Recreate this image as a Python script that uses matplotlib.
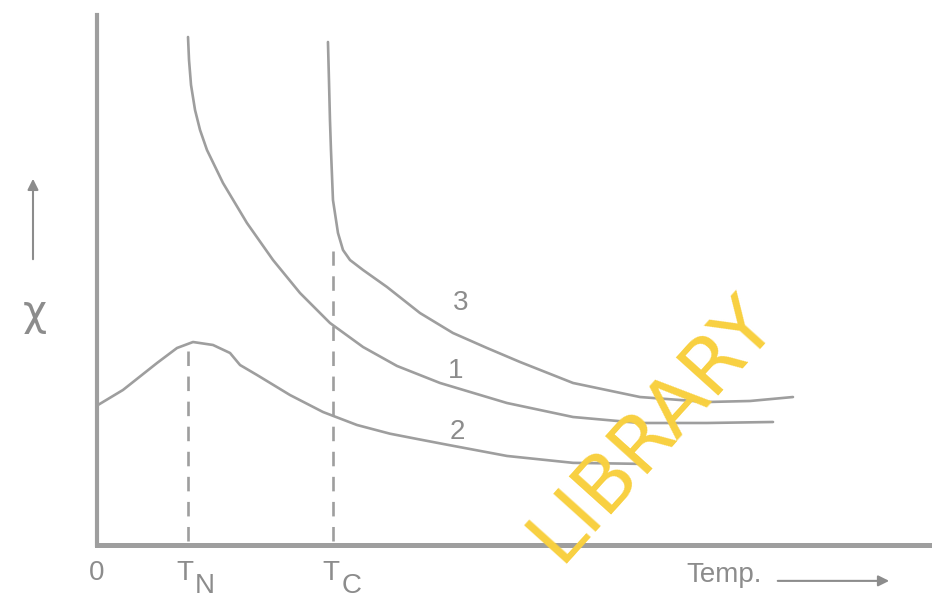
import numpy as np
import matplotlib.pyplot as plt

# critical temperatures (same units as the temperature axis)
T_N = 10.9
T_C = 28.3

# curve 1: paramagnet
t1 = [10.90, 11.02, 11.26, 11.74, 12.34, 13.17, 15.09, 17.96, 21.08, 24.31, 27.90,
      31.86, 35.93, 41.08, 49.10, 57.01, 65.03, 73.05, 80.96]
chi1 = [95.85, 91.51, 86.79, 82.08, 78.30, 74.53, 68.30, 60.75, 53.77, 47.55, 41.89,
        37.36, 33.78, 30.57, 26.79, 24.15, 23.02, 23.02, 23.21]

# curve 3: ferromagnet, diverges at T_C
t3 = [27.66, 27.78, 27.90, 28.02, 28.26, 28.86, 29.46, 30.30, 31.86, 34.73, 38.68,
      42.63, 46.71, 50.66, 57.01, 65.03, 73.05, 78.20, 83.35]
chi3 = [94.91, 87.74, 80.19, 74.53, 65.09, 58.87, 55.66, 53.77, 51.89, 48.68, 43.77,
        40.00, 37.17, 34.53, 30.57, 27.92, 26.98, 27.17, 27.92]

# curve 2: antiferromagnet, maximum at T_N
t2 = [0.12, 3.11, 7.19, 9.58, 11.50, 13.89, 15.93, 17.13, 19.16, 23.11, 27.07,
      31.14, 35.09, 38.68, 42.00, 49.10, 57.01, 65.39]
chi2 = [26.42, 29.25, 34.34, 37.17, 38.30, 37.74, 36.23, 33.96, 32.08, 28.30, 25.09,
        22.64, 21.00, 19.90, 18.90, 16.80, 15.50, 15.30]
peak_chi = 38.2
kink_chi = 55.5

curve_labels = ['3', '1', '2']
label_t = [43.5, 42.9, 43.2]
label_chi = [45.7, 32.8, 21.3]

gray = '#8c8c8c'
line_gray = '#9e9e9e'

fig = plt.figure(figsize=(9.32, 5.97), dpi=100)
ax = fig.add_axes([97 / 932, 52 / 597, 835 / 932, 530 / 597])
ax.set_xlim(0, 100)
ax.set_ylim(0, 100)

for s in ['top', 'right']:
    ax.spines[s].set_visible(False)
ax.spines['left'].set_color(line_gray)
ax.spines['left'].set_linewidth(3.0)
ax.spines['bottom'].set_color(line_gray)
ax.spines['bottom'].set_linewidth(3.6)
ax.set_xticks([])
ax.set_yticks([])

lw = 1.9
style = dict(color=line_gray, lw=lw, solid_capstyle='round', solid_joinstyle='round')
ax.plot(t1, chi1, **style)
ax.plot(t3, chi3, **style)
ax.plot(t2, chi2, **style)

# dashed drop lines to the axis
ax.plot([T_N, T_N], [0.8, peak_chi], color=line_gray, lw=lw, ls=(0, (5.5, 4)))
ax.plot([T_C, T_C], [0.8, kink_chi], color=line_gray, lw=lw, ls=(0, (5.5, 4)))

for lab, x, y in zip(curve_labels, label_t, label_chi):
    ax.text(x, y, lab, ha='center', va='center', fontsize=20, color=gray,
            family='Liberation Sans')

# labels below the temperature axis
trans = ax.get_xaxis_transform()
font = dict(color=gray, family='Liberation Sans', fontsize=20, va='baseline',
            ha='center', transform=trans, clip_on=False)
ax.text(0, -0.066, '0', **font)
ax.text(T_N - 0.4, -0.066, 'T', **font)
ax.text(T_N + 2.0, -0.09, 'N', **font)
ax.text(T_C - 0.3, -0.066, 'T', **font)
ax.text(T_C + 2.2, -0.09, 'C', **font)
ax.text(75.1, -0.070, 'Temp.', **font)

ax.annotate('', xy=(0.957, 0.027), xytext=(0.8315, 0.027), xycoords='figure fraction',
            textcoords='figure fraction',
            arrowprops=dict(arrowstyle='-|>', color=gray, lw=1.5, mutation_scale=16))

# chi with upward arrow
fig.text(35 / 932, 1 - 313 / 597, 'χ', ha='center', va='center', fontsize=30, color=gray,
         family='DejaVu Sans')
ax.annotate('', xy=(33 / 932, 1 - 176 / 597), xytext=(33 / 932, 1 - 262 / 597),
            xycoords='figure fraction', textcoords='figure fraction',
            arrowprops=dict(arrowstyle='-|>', color=gray, lw=1.5, mutation_scale=16))

# library stamp
fig.text(652 / 932, 1 - 428 / 597, 'LIBRARY', rotation=48, rotation_mode='anchor',
         ha='center', va='center', fontsize=57, color='#f8d040', family='DejaVu Sans',
         zorder=5)

fig.savefig('out.png', dpi=100)
